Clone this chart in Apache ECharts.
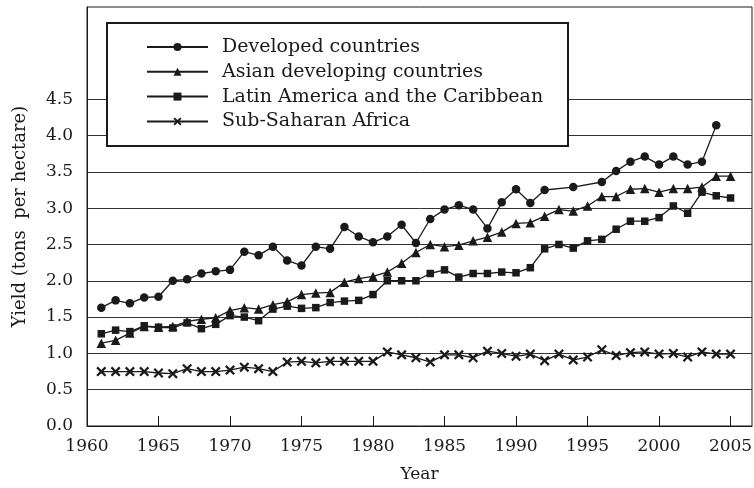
<!DOCTYPE html>
<html>
<head>
<meta charset="utf-8">
<script src="https://cdn.jsdelivr.net/npm/echarts@6/dist/echarts.min.js"></script>
<style>
html,body{margin:0;padding:0;background:#fff;}
#chart{width:754px;height:488px;}
</style>
</head>
<body>
<div id="chart"></div>
<script>
const years = [1961,1962,1963,1964,1965,1966,1967,1968,1969,1970,1971,1972,1973,1974,1975,
  1976,1977,1978,1979,1980,1981,1982,1983,1984,1985,1986,1987,1988,1989,1990,
  1991,1992,1993,1994,1995,1996,1997,1998,1999,2000,2001,2002,2003,2004,2005];

const developed = [1.63,1.73,1.69,1.77,1.78,2.00,2.02,2.10,2.13,2.15,2.40,2.35,2.47,2.28,2.21,
  2.47,2.44,2.74,2.61,2.53,2.61,2.77,2.52,2.85,2.98,3.04,2.98,2.72,3.08,3.26,
  3.07,3.25,null,3.29,null,3.36,3.51,3.64,3.71,3.60,3.71,3.60,3.64,4.14,null];

const asian = [1.14,1.18,1.28,1.37,1.36,1.37,1.44,1.47,1.49,1.59,1.63,1.61,1.67,1.71,1.81,
  1.83,1.84,1.98,2.03,2.06,2.12,2.24,2.39,2.50,2.47,2.49,2.55,2.60,2.67,2.79,
  2.80,2.89,2.98,2.96,3.03,3.16,3.16,3.26,3.27,3.22,3.27,3.27,3.29,3.44,3.44];

const latin = [1.27,1.32,1.30,1.38,1.36,1.35,1.42,1.34,1.40,1.52,1.50,1.45,1.61,1.65,1.62,
  1.63,1.70,1.72,1.73,1.81,2.00,2.00,2.00,2.10,2.15,2.05,2.10,2.10,2.12,2.11,
  2.18,2.44,2.50,2.45,2.55,2.57,2.71,2.82,2.82,2.87,3.03,2.93,3.22,3.17,3.14];

const africa = [0.75,0.75,0.75,0.75,0.73,0.72,0.79,0.75,0.75,0.77,0.81,0.79,0.75,0.88,0.89,
  0.87,0.89,0.89,0.89,0.89,1.02,0.98,0.94,0.88,0.98,0.98,0.94,1.03,1.00,0.96,
  0.99,0.90,0.99,0.91,0.95,1.05,0.97,1.01,1.02,0.99,1.00,0.95,1.02,0.99,0.99];

const seriesNames = ['Developed countries','Asian developing countries','Latin America and the Caribbean','Sub-Saharan Africa'];
const yTickLabels = ['0.0','0.5','1.0','1.5','2.0','2.5','3.0','3.5','4.0','4.5'];

const INK = '#1a1a1a';
const FONT = 'DejaVu Serif';
const crossPath = 'path://M0,1.6 L1.6,0 L5,3.4 L8.4,0 L10,1.6 L6.6,5 L10,8.4 L8.4,10 L5,6.6 L1.6,10 L0,8.4 L3.4,5 Z';

function pairs(vals){ return years.map((y,i)=>[y, vals[i]]); }

function mk(name, vals, symbol, size){
  return {
    name: name, type: 'line', data: pairs(vals),
    symbol: symbol, symbolSize: size, showAllSymbol: true,
    connectNulls: true,
    lineStyle: {color: INK, width: 1.3},
    itemStyle: {color: INK, borderWidth: 0},
    emphasis: {disabled: true},
    z: 2
  };
}

const splitColors = [];
for (let i = 0; i < 13; i++) splitColors.push(i < 10 ? '#333' : 'rgba(0,0,0,0)');

const chart = echarts.init(document.getElementById('chart'), null, {renderer: 'canvas'});
chart.setOption({
  animation: false,
  backgroundColor: '#fff',
  grid: {left: 87, right: 2, top: 7, bottom: 62, show: true, borderColor: INK, borderWidth: 1,
    backgroundColor: 'transparent', containLabel: false, outerBoundsMode: 'none'},
  xAxis: {
    type: 'value', min: 1960, max: 2006.5, interval: 5,
    name: 'Year', nameLocation: 'middle', nameGap: 40,
    nameTextStyle: {fontFamily: FONT, fontSize: 17, color: INK},
    axisLine: {show: true, lineStyle: {color: INK, width: 1}},
    axisTick: {show: true, inside: true, length: 10, lineStyle: {color: INK, width: 1}},
    axisLabel: {fontFamily: FONT, fontSize: 17, color: INK, margin: 12, showMaxLabel: false,
      formatter: v => (v % 5 === 0 ? String(v) : '')},
    splitLine: {show: false}
  },
  yAxis: {
    type: 'value', min: 0, max: 5.77, interval: 0.5,
    name: 'Yield (tons  per hectare)', nameLocation: 'middle', nameGap: 58,
    nameTextStyle: {fontFamily: FONT, fontSize: 18, color: INK},
    axisLine: {show: true, lineStyle: {color: INK, width: 1}},
    axisTick: {show: false},
    axisLabel: {fontFamily: FONT, fontSize: 17, color: INK, margin: 14, showMaxLabel: false,
      formatter: v => { const i = Math.round(v / 0.5); return (Math.abs(v - i*0.5) < 1e-6 && i < yTickLabels.length) ? yTickLabels[i] : ''; }},
    splitLine: {show: true, lineStyle: {color: splitColors, width: 1}}
  },
  graphic: [{
    type: 'rect', z: 3,
    shape: {x: 107, y: 23, width: 461, height: 123},
    style: {fill: '#fff', stroke: INK, lineWidth: 2}
  }],
  legend: {
    show: true, z: 5, orient: 'vertical', left: 146, top: 37, padding: 0,
    itemWidth: 61, itemHeight: 10, itemGap: 4.8,
    selectedMode: false,
    data: seriesNames,
    textStyle: {fontFamily: FONT, fontSize: 19, color: INK, lineHeight: 20, padding: [0,0,0,9]}
  },
  series: [
    mk(seriesNames[0], developed, 'circle', 8.5),
    mk(seriesNames[1], asian, 'triangle', 9.5),
    mk(seriesNames[2], latin, 'rect', 7.5),
    mk(seriesNames[3], africa, crossPath, 10)
  ]
});
</script>
</body>
</html>
